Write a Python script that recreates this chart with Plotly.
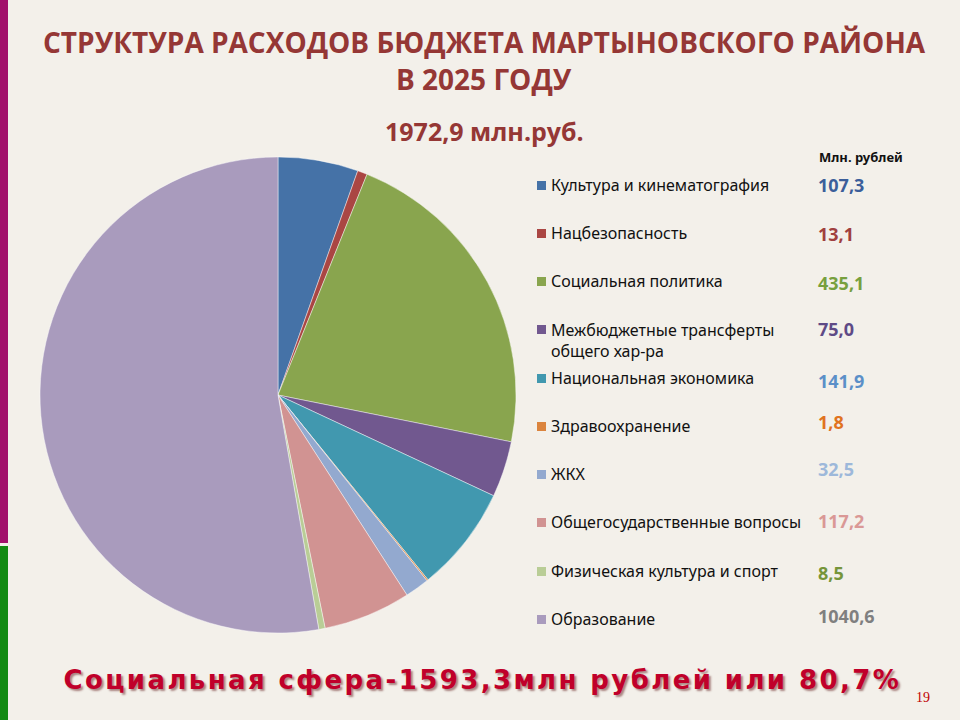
import plotly.graph_objects as go

W, H = 960, 720

categories = [
    "Культура и кинематография",
    "Нацбезопасность",
    "Социальная политика",
    "Межбюджетные трансферты<br>общего хар-ра",
    "Национальная экономика",
    "Здравоохранение",
    "ЖКХ",
    "Общегосударственные вопросы",
    "Физическая культура и спорт",
    "Образование",
]
values = [107.3, 13.1, 435.1, 75.0, 141.9, 1.8, 32.5, 117.2, 8.5, 1040.6]
value_labels = ["107,3", "13,1", "435,1", "75,0", "141,9", "1,8", "32,5", "117,2", "8,5", "1040,6"]

slice_colors = ["#4572A7", "#AA4643", "#89A54E", "#71588F", "#4198AF",
                "#DB843D", "#93A9CF", "#D19392", "#B9CD96", "#A99BBD"]
value_colors = ["#3B5E9A", "#A0403E", "#77A03E", "#5E4A86", "#5B8FC8",
                "#E0731F", "#9DB8DA", "#DA9896", "#76953A", "#7F7F7F"]

BG = "#F3F0EA"
TITLE_RED = "#953735"


def px(x, y):
    return x / W, 1 - y / H


fig = go.Figure()

# pie: centre ~ (278, 395), radius ~ 238
x0, y1 = px(40, 157)
x1, y0 = px(516, 633)
fig.add_trace(go.Pie(
    labels=[c.replace("<br>", " ") for c in categories],
    values=values,
    sort=False,
    direction="clockwise",
    rotation=0,
    textinfo="none",
    hoverinfo="label+value+percent",
    marker=dict(colors=slice_colors, line=dict(color="rgba(255,255,255,0.55)", width=0.8)),
    domain=dict(x=[x0, x1], y=[y0, y1]),
    showlegend=False,
))

shapes = []
annotations = []

# left edge bars
shapes.append(dict(type="rect", xref="paper", yref="paper",
                   x0=0, x1=8 / W, y0=1 - 543 / H, y1=1,
                   fillcolor="#A2106B", line=dict(width=0)))
shapes.append(dict(type="rect", xref="paper", yref="paper",
                   x0=0, x1=8 / W, y0=0, y1=1 - 546 / H,
                   fillcolor="#128A12", line=dict(width=0)))

# titles
for txt, ty in [("СТРУКТУРА РАСХОДОВ БЮДЖЕТА МАРТЫНОВСКОГО РАЙОНА", 42),
                ("В 2025 ГОДУ", 79)]:
    annotations.append(dict(
        text=txt, x=484 / W, y=1 - ty / H, xref="paper", yref="paper",
        xanchor="center", yanchor="middle", showarrow=False,
        font=dict(family="Open Sans", size=28, color=TITLE_RED, weight="bold"),
    ))
annotations.append(dict(
    text="1972,9 млн.руб.",
    x=484 / W, y=1 - 131 / H, xref="paper", yref="paper",
    xanchor="center", yanchor="middle", showarrow=False,
    font=dict(family="Open Sans", size=25, color=TITLE_RED, weight="bold"),
))
annotations.append(dict(
    text="Млн. рублей",
    x=817 / W, y=1 - 157 / H, xref="paper", yref="paper",
    xanchor="left", yanchor="middle", showarrow=False,
    font=dict(family="Noto Sans", size=13, color="#111111", weight="bold"),
))

# legend rows
row_y = [185, 233, 281, 340, 378, 426, 474, 522, 571, 619]
val_y = [185, 234, 283, 329, 381, 422, 469, 521, 573, 616]
for i, cat in enumerate(categories):
    ty = row_y[i]
    sq_y = 329 if "<br>" in cat else ty
    shapes.append(dict(type="rect", xref="paper", yref="paper",
                       x0=537 / W, x1=546 / W,
                       y0=1 - (sq_y + 5) / H, y1=1 - (sq_y - 4) / H,
                       fillcolor=slice_colors[i], line=dict(width=0)))
    annotations.append(dict(
        text=cat, x=549 / W, y=1 - ty / H, xref="paper", yref="paper",
        xanchor="left", yanchor="middle", align="left", showarrow=False,
        font=dict(family="Noto Sans", size=16, color="#111111"),
    ))
    annotations.append(dict(
        text=value_labels[i], x=816 / W, y=1 - val_y[i] / H,
        xref="paper", yref="paper", xanchor="left", yanchor="middle",
        showarrow=False,
        font=dict(family="Noto Sans", size=18, color=value_colors[i], weight="bold"),
    ))

# bottom banner
annotations.append(dict(
    text="Социальная сфера-1593,3млн рублей или 80,7%",
    x=482 / W, y=1 - 680 / H, xref="paper", yref="paper",
    xanchor="center", yanchor="middle", showarrow=False,
    font=dict(family="DejaVu Sans", size=26, color="#C0002A", weight="bold",
              shadow="2px 2px 2px rgba(80,0,0,0.45)"),
))
annotations.append(dict(
    text="19", x=923 / W, y=1 - 697 / H, xref="paper", yref="paper",
    xanchor="center", yanchor="middle", showarrow=False,
    font=dict(family="Liberation Serif", size=14, color="#C00000"),
))

fig.update_layout(
    width=W, height=H,
    margin=dict(l=0, r=0, t=0, b=0),
    paper_bgcolor=BG, plot_bgcolor=BG,
    shapes=shapes, annotations=annotations,
)

# no page margin; spaced-out letters for the bottom banner like on the slide
post = """
document.body.style.margin='0';
document.querySelectorAll('.annotation-text').forEach(function(t){
  if (t.textContent.indexOf('Социальная сфера') === 0) {
    t.style.letterSpacing = '2.4px';
  }
});
"""
fig.write_html("out.html", post_script=post, config={"displayModeBar": False})
